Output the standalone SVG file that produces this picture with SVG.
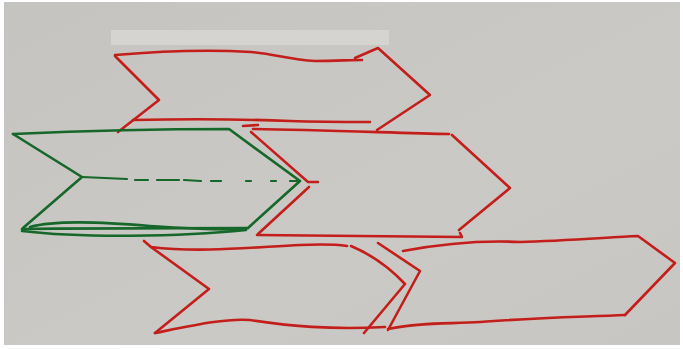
<svg xmlns="http://www.w3.org/2000/svg" width="683" height="349" viewBox="0 0 683 349">
<defs>
<style>
.r{fill:none;stroke:#c41e1a;stroke-width:2.6;stroke-linecap:round;stroke-linejoin:round}
.g{fill:none;stroke:#15672a;stroke-width:2.6;stroke-linecap:round;stroke-linejoin:round}
.gd{fill:none;stroke:#15672a;stroke-width:2.2;stroke-linecap:round}
</style>
<linearGradient id="paper" x1="0" y1="0" x2="1" y2="1">
<stop offset="0" stop-color="#c5c4c0"/>
<stop offset="0.6" stop-color="#cac9c5"/>
<stop offset="1" stop-color="#c7c6c2"/>
</linearGradient>
</defs>
<rect x="0" y="0" width="683" height="349" fill="#ffffff"/>
<rect x="4" y="2" width="676" height="343" fill="url(#paper)"/>
<rect x="111" y="30" width="278" height="15" fill="#d6d4d0"/>

<g id="chevron-top">
<path class="r" d="M115,55 C150,52 200,49 251,52 C275,54 290,60 315,61 C335,61 350,60 362,60"/>
<path class="r" d="M355,58 L378,48 L430,95 L377,130"/>
<path class="r" d="M115,56 L159,100 L118,132"/>
<path class="r" d="M133,120 C180,119 240,119 290,121 C320,122 350,122 370,122"/>
</g>

<g id="chevron-green">
<path class="g" d="M13,134 C80,131 160,129 229,129 L300,181 L248,228"/>
<path class="g" d="M13,134 L82,177 L23,228"/>
<path class="g" d="M22,229 C100,228 180,228 248,228"/>
<path class="g" d="M22,231 C80,238 180,237 246,230"/>
<path class="g" d="M30,227 C55,220 100,222 150,226 C195,229 225,230 246,229"/>
<path class="gd" d="M82,177 L127,179 M135,180 L148,180 M157,180 L179,180 M184,180 L201,181 M211,181 L221,181 M246,181 L251,181 M271,181 L276,181 M290,181 L299,181"/>
</g>

<g id="chevron-middle">
<path class="r" d="M243,126 L258,125"/>
<path class="r" d="M253,129 C320,130 400,133 449,134"/>
<path class="r" d="M452,135 L510,188 L459,230"/>
<path class="r" d="M251,132 L308,182 L318,182"/>
<path class="r" d="M309,187 L258,234"/>
<path class="r" d="M257,235 C330,236 400,237 462,237 L460,233"/>
</g>

<g id="chevron-bottom-left">
<path class="r" d="M144,241 L151,247 C200,253 255,247 300,245 C325,244 340,245 347,246"/>
<path class="r" d="M351,246 C370,254 390,268 405,284 L364,333"/>
<path class="r" d="M151,247 L209,289 L155,333"/>
<path class="r" d="M155,333 C190,326 225,318 250,320 C290,326 330,330 385,327"/>
</g>

<g id="chevron-bottom-right">
<path class="r" d="M378,243 L420,271 L388,330"/>
<path class="r" d="M403,251 C440,244 480,240 520,242 C560,241 600,238 638,236 L675,263 L625,315"/>
<path class="r" d="M388,329 C420,322 450,324 480,322 C530,318 580,317 625,315"/>
</g>
</svg>
